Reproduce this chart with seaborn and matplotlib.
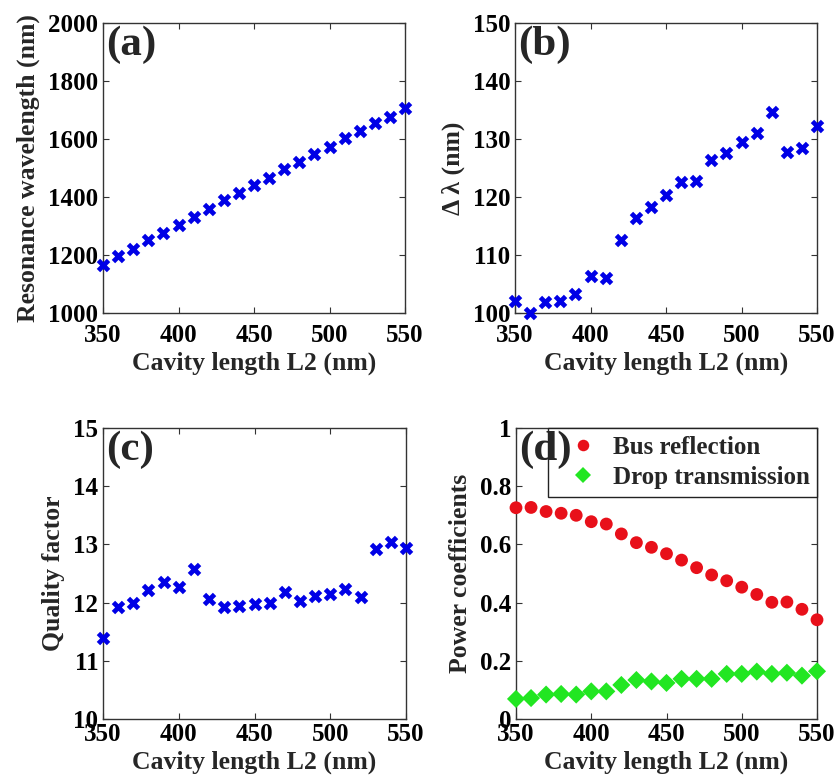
import numpy as np
import pandas as pd
import seaborn as sns
import matplotlib
matplotlib.use("Agg")
import matplotlib.pyplot as plt

# ---------------- data ----------------
cavity_length = [350, 360, 370, 380, 390, 400, 410, 420, 430, 440, 450,
                 460, 470, 480, 490, 500, 510, 520, 530, 540, 550]
resonance_wavelength = [1164, 1195, 1220, 1250, 1275, 1304, 1330, 1358, 1390, 1415, 1441,
                        1467, 1495, 1522, 1548, 1573, 1602, 1628, 1654, 1677, 1708]
delta_lambda = [102.1, 100.0, 101.9, 102.1, 103.2, 106.4, 106.0, 112.6, 116.3, 118.3, 120.4,
                122.5, 122.8, 126.3, 127.6, 129.5, 131.0, 134.6, 127.8, 128.4, 132.3]
quality_factor = [11.39, 11.93, 12.00, 12.21, 12.35, 12.26, 12.57, 12.07, 11.93, 11.95, 11.97,
                  11.99, 12.18, 12.03, 12.11, 12.14, 12.23, 12.10, 12.92, 13.04, 12.93]
bus_reflection = [0.726, 0.727, 0.713, 0.707, 0.700, 0.678, 0.670, 0.636, 0.606, 0.590, 0.568,
                  0.546, 0.520, 0.495, 0.475, 0.453, 0.428, 0.401, 0.402, 0.377, 0.341]
drop_transmission = [0.069, 0.072, 0.084, 0.086, 0.084, 0.095, 0.095, 0.117, 0.134, 0.129, 0.124,
                     0.138, 0.138, 0.138, 0.155, 0.155, 0.163, 0.155, 0.159, 0.149, 0.164]

x_ticks = [350, 400, 450, 500, 550]
panel_labels = ["(a)", "(b)", "(c)", "(d)"]
xlabel_text = "Cavity length L2 (nm)"
ylabels = ["Resonance wavelength (nm)", "Δ λ (nm)", "Quality factor", "Power coefficients"]
series_names = ["Bus reflection", "Drop transmission"]

# ---------------- style ----------------
sns.set_style("ticks")
plt.rcParams["font.family"] = ["Liberation Serif", "DejaVu Serif"]
plt.rcParams["font.weight"] = "bold"
plt.rcParams["axes.labelweight"] = "bold"
plt.rcParams["axes.edgecolor"] = "#333333"
plt.rcParams["axes.linewidth"] = 1.0
plt.rcParams["xtick.direction"] = "in"
plt.rcParams["ytick.direction"] = "in"
plt.rcParams["xtick.top"] = True
plt.rcParams["ytick.right"] = True
plt.rcParams["xtick.major.size"] = 4
plt.rcParams["ytick.major.size"] = 4
plt.rcParams["xtick.color"] = "#333333"
plt.rcParams["ytick.color"] = "#333333"
plt.rcParams["xtick.labelcolor"] = "black"
plt.rcParams["ytick.labelcolor"] = "black"

TICK_FS = 18
LABEL_FS = 18.5
PANEL_FS = 31

fig = plt.figure(figsize=(8.39, 7.78), dpi=100)
W, H = 839, 778


def add_ax(l, t, r, b):
    return fig.add_axes([l / W, 1 - b / H, (r - l) / W, (b - t) / H])


ax_a = add_ax(103, 23, 405, 313)
ax_b = add_ax(515, 23, 817, 313)
ax_c = add_ax(103, 428, 406, 719)
ax_d = add_ax(516, 428, 817, 719)

blue = "#0000e6"
df = pd.DataFrame({
    "L2": cavity_length,
    "res": resonance_wavelength,
    "dl": delta_lambda,
    "Q": quality_factor,
})

for ax, col in zip([ax_a, ax_b, ax_c], ["res", "dl", "Q"]):
    sns.scatterplot(data=df, x="L2", y=col, ax=ax, marker="X", s=95,
                    color=blue, linewidth=0, zorder=3, clip_on=False)

df_d = pd.DataFrame({
    "L2": cavity_length * 2,
    "P": bus_reflection + drop_transmission,
    "series": [series_names[0]] * len(cavity_length) + [series_names[1]] * len(cavity_length),
})
sns.scatterplot(data=df_d, x="L2", y="P", hue="series", style="series",
                markers={series_names[0]: "o", series_names[1]: "D"},
                palette={series_names[0]: "#e8101a", series_names[1]: "#22e622"},
                s=85, ax=ax_d, linewidth=0, zorder=3, clip_on=False)

ylims = [(1000, 2000), (100, 150), (10, 15), (0, 1)]
yticks = [[1000, 1200, 1400, 1600, 1800, 2000],
          [100, 110, 120, 130, 140, 150],
          [10, 11, 12, 13, 14, 15],
          [0, 0.2, 0.4, 0.6, 0.8, 1]]
ytl = [None, None, None, ["0", "0.2", "0.4", "0.6", "0.8", "1"]]
xpads = [8, 8, 3, 3]
xlabelpads = [3, 3, 3.5, 3.5]

for i, ax in enumerate([ax_a, ax_b, ax_c, ax_d]):
    ax.set_xlim(350, 550)
    ax.set_ylim(*ylims[i])
    ax.set_xticks(x_ticks)
    ax.set_yticks(yticks[i])
    if ytl[i] is not None:
        ax.set_yticklabels(ytl[i])
    ax.tick_params(axis="x", labelsize=TICK_FS, pad=xpads[i])
    ax.tick_params(axis="y", labelsize=TICK_FS, pad=3.5)
    for lab in ax.get_xticklabels() + ax.get_yticklabels():
        lab.set_fontweight("bold")
    for s in ax.spines.values():
        s.set_visible(True)
    ax.set_xlabel(xlabel_text, fontsize=LABEL_FS, fontweight="bold", labelpad=xlabelpads[i])
    ax.set_ylabel(ylabels[i], fontsize=LABEL_FS, fontweight="bold", labelpad=5.5)
    ax.text(0.01, 0.99, panel_labels[i], transform=ax.transAxes, fontsize=PANEL_FS,
            fontweight="bold", va="top", ha="left", zorder=10)

leg = ax_d.legend(loc="upper right", bbox_to_anchor=(1.0, 1.0), borderaxespad=0,
                  prop={"weight": "bold", "size": 18}, frameon=True,
                  fancybox=False, edgecolor="#222222", framealpha=1,
                  handletextpad=0.1, borderpad=0.3, labelspacing=0.3, markerscale=0.9,
                  handlelength=2.2)
leg.get_frame().set_linewidth(1.0)
leg.set_zorder(5)

fig.savefig("out.png", dpi=100)
